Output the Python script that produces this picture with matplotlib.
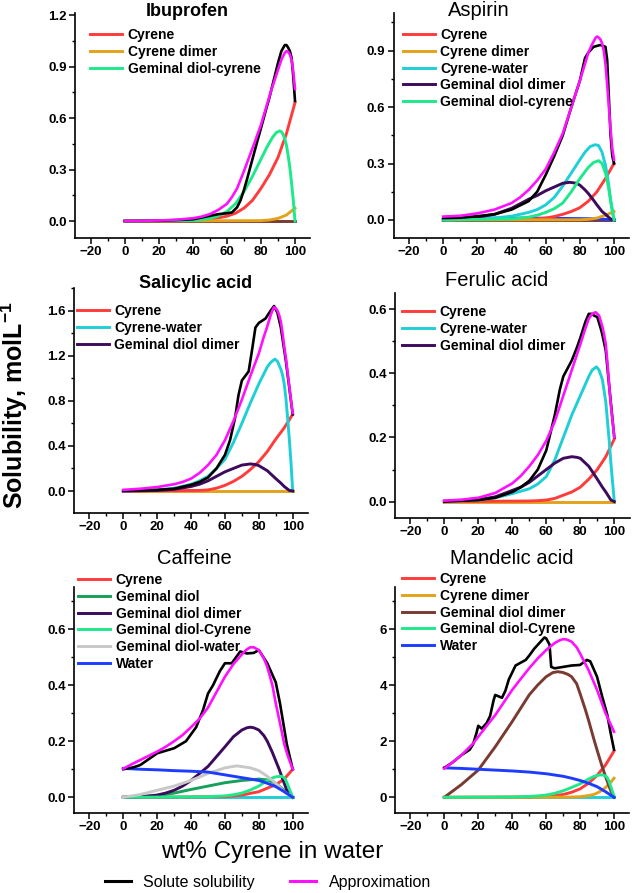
import numpy as np
import matplotlib
matplotlib.use("Agg")
import matplotlib.pyplot as plt
from matplotlib.ticker import MultipleLocator
from matplotlib.lines import Line2D

plt.rcParams['font.family'] = ['Liberation Sans', 'DejaVu Sans']
plt.rcParams['mathtext.fontset'] = 'custom'
plt.rcParams['mathtext.rm'] = 'Liberation Sans'
plt.rcParams['mathtext.bf'] = 'Liberation Sans:bold'

# =========================
# COLOURS
# =========================
C_RED = '#ff3b3b'
C_ORANGE = '#e3a21a'
C_CYAN = '#1fcfd6'
C_PURPLE = '#3d0a5c'
C_SPRING = '#1de98b'
C_GREEN = '#17a05a'
C_GRAY = '#c8c8c8'
C_BLUE = '#1e3cff'
C_BROWN = '#7a3a32'
C_MAGENTA = '#ff10ff'

# =========================
# DATA - Ibuprofen
# =========================
ibu_sol_x = [0, 20, 40, 50, 55, 60, 63, 66, 68, 70, 72, 75, 78, 80, 83, 85, 88, 90, 92, 94, 95, 96, 97, 98, 99, 100]
ibu_sol_y = [0, 0.001, 0.01, 0.03, 0.04, 0.045, 0.05, 0.08, 0.12, 0.18, 0.25, 0.36, 0.47, 0.54, 0.65, 0.72, 0.84, 0.92, 0.99, 1.025, 1.025, 1.01, 0.99, 0.95, 0.84, 0.70]
ibu_app_x = [0, 10, 20, 30, 40, 45, 50, 55, 60, 63, 66, 70, 73, 76, 80, 83, 86, 88, 90, 92, 94, 95, 96, 97, 98, 99, 100]
ibu_app_y = [0, 0.001, 0.003, 0.007, 0.016, 0.025, 0.04, 0.065, 0.1, 0.14, 0.19, 0.29, 0.37, 0.45, 0.56, 0.66, 0.76, 0.82, 0.88, 0.94, 0.98, 0.99, 0.985, 0.97, 0.94, 0.87, 0.77]
ibu_cyr_x = [0, 30, 40, 50, 55, 60, 65, 70, 75, 80, 85, 90, 95, 100]
ibu_cyr_y = [0, 0.002, 0.005, 0.012, 0.018, 0.028, 0.045, 0.075, 0.12, 0.19, 0.27, 0.37, 0.51, 0.69]
ibu_dim_x = [0, 80, 85, 90, 95, 100]
ibu_dim_y = [0, 0.002, 0.006, 0.015, 0.035, 0.075]
ibu_gdc_x = [0, 40, 45, 50, 55, 60, 65, 70, 75, 80, 84, 87, 89, 91, 92, 93, 94, 95, 96, 97, 98, 99, 100]
ibu_gdc_y = [0, 0.003, 0.008, 0.015, 0.03, 0.055, 0.1, 0.17, 0.26, 0.36, 0.44, 0.49, 0.515, 0.525, 0.52, 0.505, 0.48, 0.44, 0.38, 0.31, 0.22, 0.12, 0]
ibu_oth_x = [0, 100]
ibu_oth_y = [0, 0]

# =========================
# DATA - Aspirin
# =========================
asp_sol_x = [0, 10, 20, 30, 40, 50, 55, 60, 65, 70, 75, 80, 83, 85, 88, 92, 95, 96, 97, 98, 99, 100]
asp_sol_y = [0.01, 0.012, 0.02, 0.03, 0.055, 0.1, 0.15, 0.24, 0.34, 0.45, 0.6, 0.74, 0.86, 0.89, 0.92, 0.93, 0.92, 0.85, 0.65, 0.45, 0.34, 0.3]
asp_app_x = [0, 10, 20, 30, 40, 45, 50, 55, 60, 65, 70, 75, 80, 83, 85, 87, 89, 90, 91, 92, 93, 94, 95, 96, 97, 98, 99, 100]
asp_app_y = [0.018, 0.022, 0.035, 0.055, 0.09, 0.12, 0.16, 0.21, 0.27, 0.36, 0.46, 0.6, 0.74, 0.83, 0.89, 0.93, 0.965, 0.975, 0.97, 0.96, 0.94, 0.9, 0.83, 0.72, 0.6, 0.48, 0.38, 0.32]
asp_cyr_x = [0, 50, 55, 60, 65, 70, 75, 80, 85, 90, 95, 100]
asp_cyr_y = [0, 0.003, 0.006, 0.01, 0.018, 0.03, 0.045, 0.065, 0.1, 0.15, 0.22, 0.30]
asp_dim_x = [0, 80, 85, 90, 95, 100]
asp_dim_y = [0, 0.001, 0.003, 0.01, 0.025, 0.045]
asp_cw_x = [0, 20, 30, 40, 50, 55, 60, 65, 70, 75, 80, 83, 86, 89, 91, 93, 95, 96, 97, 98, 99, 100]
asp_cw_y = [0, 0.005, 0.01, 0.02, 0.04, 0.055, 0.08, 0.12, 0.18, 0.25, 0.32, 0.36, 0.39, 0.40, 0.395, 0.36, 0.29, 0.24, 0.18, 0.11, 0.05, 0]
asp_gdd_x = [0, 10, 20, 30, 40, 50, 55, 60, 65, 70, 74, 78, 80, 83, 85, 88, 90, 93, 95, 98, 100]
asp_gdd_y = [0, 0.007, 0.015, 0.03, 0.062, 0.11, 0.13, 0.155, 0.175, 0.195, 0.2, 0.195, 0.185, 0.16, 0.14, 0.105, 0.08, 0.045, 0.03, 0.005, 0]
asp_gdc_x = [0, 40, 50, 55, 60, 65, 70, 75, 80, 85, 88, 91, 93, 95, 96, 97, 98, 99, 100]
asp_gdc_y = [0, 0.005, 0.015, 0.025, 0.04, 0.06, 0.09, 0.15, 0.22, 0.28, 0.305, 0.315, 0.3, 0.25, 0.21, 0.16, 0.1, 0.05, 0]
asp_wat_x = [0, 50, 90, 100]
asp_wat_y = [0.01, 0.01, 0.006, 0]

# =========================
# DATA - Salicylic acid
# =========================
sal_sol_x = [0, 20, 30, 40, 45, 50, 55, 60, 63, 66, 68, 70, 72, 74, 76, 78, 80, 84, 87, 89, 91, 93, 96, 100]
sal_sol_y = [0.005, 0.01, 0.02, 0.055, 0.08, 0.12, 0.2, 0.32, 0.45, 0.65, 0.85, 0.98, 1.02, 1.06, 1.25, 1.45, 1.49, 1.53, 1.6, 1.64, 1.58, 1.45, 1.15, 0.68]
sal_app_x = [0, 10, 20, 30, 35, 40, 45, 50, 55, 60, 65, 70, 75, 80, 83, 85, 87, 88, 89, 90, 91, 92, 93, 94, 95, 96, 97, 98, 99, 100]
sal_app_y = [0.01, 0.02, 0.035, 0.06, 0.08, 0.11, 0.16, 0.23, 0.32, 0.45, 0.62, 0.81, 1.02, 1.22, 1.37, 1.46, 1.56, 1.6, 1.63, 1.62, 1.6, 1.56, 1.5, 1.4, 1.28, 1.18, 1.05, 0.93, 0.8, 0.69]
sal_cyr_x = [0, 45, 50, 55, 60, 65, 70, 75, 80, 85, 90, 95, 100]
sal_cyr_y = [0, 0.005, 0.01, 0.025, 0.05, 0.085, 0.13, 0.19, 0.26, 0.35, 0.46, 0.56, 0.68]
sal_cw_x = [0, 20, 30, 40, 45, 50, 55, 60, 65, 70, 75, 80, 83, 85, 87, 89.5, 91, 93, 94, 95, 96, 97, 98, 99, 100]
sal_cw_y = [0, 0.01, 0.025, 0.06, 0.09, 0.13, 0.2, 0.28, 0.43, 0.6, 0.78, 0.95, 1.04, 1.1, 1.14, 1.17, 1.15, 1.08, 1.03, 0.95, 0.82, 0.65, 0.46, 0.25, 0]
sal_gdd_x = [0, 20, 30, 40, 45, 50, 55, 60, 65, 70, 75, 78, 80, 85, 90, 93, 95, 98, 100]
sal_gdd_y = [0, 0.005, 0.015, 0.04, 0.06, 0.09, 0.13, 0.17, 0.2, 0.23, 0.24, 0.235, 0.225, 0.18, 0.11, 0.07, 0.04, 0.005, 0]
sal_oth_x = [0, 100]
sal_oth_y = [0, 0]

# =========================
# DATA - Ferulic acid
# =========================
fer_sol_x = [0, 20, 30, 40, 45, 50, 55, 60, 65, 68, 70, 73, 75, 78, 80, 83, 85, 87, 88, 90, 92, 93, 95, 97, 100]
fer_sol_y = [0.002, 0.005, 0.012, 0.03, 0.045, 0.065, 0.1, 0.16, 0.27, 0.35, 0.39, 0.42, 0.44, 0.48, 0.51, 0.56, 0.585, 0.585, 0.58, 0.575, 0.54, 0.52, 0.47, 0.36, 0.2]
fer_app_x = [0, 10, 20, 30, 40, 45, 50, 55, 60, 65, 70, 75, 80, 83, 85, 87, 89, 91, 93, 94, 95, 96, 97, 98, 99, 100]
fer_app_y = [0.003, 0.006, 0.012, 0.027, 0.057, 0.08, 0.11, 0.145, 0.19, 0.25, 0.33, 0.41, 0.49, 0.54, 0.57, 0.585, 0.59, 0.58, 0.545, 0.52, 0.49, 0.43, 0.36, 0.3, 0.25, 0.2]
fer_cyr_x = [0, 50, 55, 60, 65, 70, 75, 80, 85, 90, 95, 100]
fer_cyr_y = [0, 0.002, 0.003, 0.005, 0.01, 0.02, 0.03, 0.045, 0.07, 0.1, 0.14, 0.195]
fer_cw_x = [0, 20, 30, 40, 50, 55, 60, 65, 70, 75, 80, 85, 87, 89.5, 91, 93, 95, 96, 97, 98, 99, 100]
fer_cw_y = [0, 0.005, 0.012, 0.025, 0.04, 0.055, 0.078, 0.13, 0.2, 0.27, 0.33, 0.39, 0.41, 0.42, 0.41, 0.38, 0.31, 0.25, 0.19, 0.12, 0.06, 0]
fer_gdd_x = [0, 20, 30, 40, 45, 50, 55, 60, 65, 70, 75, 78, 80, 85, 90, 93, 95, 98, 100]
fer_gdd_y = [0, 0.006, 0.015, 0.035, 0.045, 0.06, 0.08, 0.1, 0.12, 0.135, 0.14, 0.138, 0.135, 0.11, 0.07, 0.045, 0.03, 0.005, 0]
fer_oth_x = [0, 100]
fer_oth_y = [0, 0]

# =========================
# DATA - Caffeine
# =========================
caf_sol_x = [0, 6, 10, 20, 30, 37, 43, 47, 50, 53, 57, 60, 64, 69, 73, 77, 80, 85, 90, 92.5, 96.5, 100]
caf_sol_y = [0.1, 0.107, 0.115, 0.157, 0.175, 0.2, 0.25, 0.31, 0.37, 0.4, 0.45, 0.478, 0.478, 0.52, 0.513, 0.515, 0.525, 0.478, 0.41, 0.335, 0.19, 0.1]
caf_app_x = [0, 5, 10, 15, 20, 25, 30, 35, 40, 45, 50, 55, 60, 65, 70, 73, 75, 77, 80, 83, 85, 88, 90, 93, 95, 97, 100]
caf_app_y = [0.102, 0.118, 0.133, 0.148, 0.163, 0.18, 0.2, 0.222, 0.25, 0.28, 0.32, 0.375, 0.43, 0.475, 0.51, 0.528, 0.535, 0.535, 0.525, 0.495, 0.465, 0.4, 0.335, 0.25, 0.19, 0.15, 0.1]
caf_cyr_x = [0, 60, 70, 80, 90, 95, 100]
caf_cyr_y = [0, 0.002, 0.008, 0.02, 0.045, 0.065, 0.1]
caf_gd_x = [0, 20, 30, 40, 50, 60, 70, 80, 85, 90, 95, 100]
caf_gd_y = [0, 0.005, 0.015, 0.028, 0.04, 0.052, 0.06, 0.065, 0.062, 0.05, 0.025, 0]
caf_gdd_x = [0, 10, 20, 25, 30, 35, 40, 45, 50, 55, 60, 65, 70, 73, 75, 77, 80, 83, 85, 88, 90, 92, 95, 96.5, 100]
caf_gdd_y = [0, 0.002, 0.008, 0.015, 0.025, 0.04, 0.06, 0.085, 0.11, 0.145, 0.18, 0.216, 0.24, 0.248, 0.25, 0.248, 0.24, 0.22, 0.2, 0.16, 0.13, 0.1, 0.05, 0.026, 0]
caf_gdc_x = [0, 50, 60, 65, 70, 75, 80, 85, 88, 90, 93.5, 95, 96, 97, 98, 99, 100]
caf_gdc_y = [0, 0.002, 0.005, 0.009, 0.015, 0.026, 0.04, 0.06, 0.069, 0.073, 0.075, 0.07, 0.06, 0.046, 0.03, 0.015, 0]
caf_gdw_x = [0, 10, 20, 30, 40, 50, 60, 67, 75, 80, 85, 90, 95, 100]
caf_gdw_y = [0, 0.01, 0.025, 0.04, 0.06, 0.085, 0.105, 0.112, 0.105, 0.095, 0.075, 0.05, 0.02, 0]
caf_wat_x = [0, 10, 20, 30, 40, 50, 60, 65, 70, 80, 85, 90, 95, 100]
caf_wat_y = [0.103, 0.1, 0.098, 0.095, 0.093, 0.09, 0.08, 0.075, 0.07, 0.06, 0.05, 0.038, 0.02, 0]
caf_oth_x = [0, 100]
caf_oth_y = [0, 0]

# =========================
# DATA - Mandelic acid
# =========================
man_sol_x = [0, 5, 10, 15, 17, 19, 20, 22, 25, 27, 29, 30, 32, 34, 36, 38, 40, 42, 45, 48, 50, 53, 56, 59, 60, 62, 63, 65, 70, 75, 80, 84, 86, 90, 93, 96, 98, 100]
man_sol_y = [1.05, 1.25, 1.5, 1.7, 1.9, 2.3, 2.55, 2.45, 2.65, 2.9, 3.45, 3.65, 3.6, 3.55, 3.8, 4.2, 4.45, 4.7, 4.8, 4.9, 5.05, 5.3, 5.5, 5.7, 5.67, 5.45, 4.65, 4.6, 4.65, 4.7, 4.72, 4.9, 4.85, 4.3, 3.6, 2.95, 2.3, 1.7]
man_app_x = [0, 5, 10, 15, 17, 20, 25, 30, 35, 40, 45, 50, 55, 60, 65, 68, 70, 72, 75, 78, 80, 85, 90, 95, 100]
man_app_y = [1.03, 1.25, 1.5, 1.8, 1.92, 2.16, 2.55, 2.93, 3.38, 3.83, 4.22, 4.6, 4.95, 5.25, 5.5, 5.6, 5.64, 5.63, 5.55, 5.35, 5.13, 4.54, 3.83, 3.0, 2.34]
man_cyr_x = [0, 50, 60, 65, 70, 75, 80, 85, 90, 95, 100]
man_cyr_y = [0, 0.01, 0.03, 0.06, 0.1, 0.18, 0.3, 0.5, 0.78, 1.15, 1.65]
man_dim_x = [0, 70, 75, 80, 85, 88, 90, 93, 95, 98, 100]
man_dim_y = [0, 0.005, 0.01, 0.02, 0.06, 0.1, 0.15, 0.25, 0.35, 0.53, 0.68]
man_gdd_x = [0, 10, 20, 30, 40, 50, 55, 60, 64, 67, 70, 73, 75, 78, 80, 83, 85, 88, 90, 93, 95, 98, 100]
man_gdd_y = [0, 0.45, 0.97, 1.8, 2.7, 3.65, 4.0, 4.3, 4.45, 4.48, 4.45, 4.38, 4.3, 4.05, 3.7, 3.15, 2.75, 2.1, 1.69, 1.1, 0.74, 0.25, 0]
man_gdc_x = [0, 40, 50, 55, 60, 65, 70, 75, 80, 85, 88, 90, 92, 93, 95, 96, 97, 98, 99, 100]
man_gdc_y = [0, 0.01, 0.03, 0.05, 0.08, 0.14, 0.23, 0.35, 0.48, 0.65, 0.74, 0.78, 0.8, 0.8, 0.76, 0.7, 0.58, 0.4, 0.22, 0.05]
man_wat_x = [0, 10, 20, 30, 40, 50, 60, 70, 75, 80, 85, 90, 95, 100]
man_wat_y = [1.05, 1.03, 1.0, 0.97, 0.94, 0.9, 0.84, 0.75, 0.68, 0.6, 0.5, 0.38, 0.2, 0]
man_oth_x = [0, 100]
man_oth_y = [0, 0]

# =========================
# FIGURE
# =========================
W, H = 633, 893
fig = plt.figure(figsize=(W / 100, H / 100), dpi=100)
XLIM = (-29, 109)


def make_ax(x0px, x100px, top, bottom, ylim, ymaj, ymin, fmt):
    s = (x100px - x0px) / 100.0
    left = x0px + XLIM[0] * s
    right = x0px + XLIM[1] * s
    ax = fig.add_axes([left / W, 1 - bottom / H, (right - left) / W, (bottom - top) / H])
    ax.set_xlim(*XLIM)
    ax.set_ylim(*ylim)
    for sp in ['top', 'right']:
        ax.spines[sp].set_visible(False)
    for sp in ['left', 'bottom']:
        ax.spines[sp].set_linewidth(1.2)
    ax.set_xticks([-20, 0, 20, 40, 60, 80, 100])
    ax.xaxis.set_minor_locator(MultipleLocator(10))
    ax.yaxis.set_major_locator(MultipleLocator(ymaj))
    ax.yaxis.set_minor_locator(MultipleLocator(ymin))
    ax.yaxis.set_major_formatter(plt.FormatStrFormatter(fmt))
    ax.tick_params(which='major', length=4, width=1.1, labelsize=9.5, pad=2)
    ax.tick_params(which='minor', length=2.2, width=1.0)
    for lab in ax.get_xticklabels() + ax.get_yticklabels():
        lab.set_fontweight('bold')
    return ax


def draw(ax, comps, sol, app, leg_x, leg_y):
    for x, y, c, lab in comps:
        ax.plot(x, y, color=c, lw=2.1, label=lab, solid_joinstyle='round')
    ax.plot(sol[0], sol[1], color='black', lw=1.9, label='_nolegend_', solid_joinstyle='round')
    ax.plot(app[0], app[1], color=C_MAGENTA, lw=1.9, label='_nolegend_', solid_joinstyle='round')
    ax.legend(loc='upper left', bbox_to_anchor=(leg_x / W, 1 - (leg_y - 7) / H),
              bbox_transform=fig.transFigure, frameon=False, borderpad=0,
              borderaxespad=0, handlelength=2.3, handletextpad=0.4,
              labelspacing=0.2, prop={'weight': 'bold', 'size': 10})


def title(xc, yc, txt, bold):
    fig.text(xc / W, 1 - yc / H, txt, ha='center', va='center',
             fontsize=13 if bold else 14.5,
             fontweight='bold' if bold else 'normal')


# Ibuprofen
ax1 = make_ax(124.7, 295, 13, 238, (-0.099, 1.212), 0.3, 0.15, '%.1f')
draw(ax1, [
    (ibu_oth_x, ibu_oth_y, C_BROWN, '_nolegend_'),
    (ibu_cyr_x, ibu_cyr_y, C_RED, 'Cyrene'),
    (ibu_dim_x, ibu_dim_y, C_ORANGE, 'Cyrene dimer'),
    (ibu_gdc_x, ibu_gdc_y, C_SPRING, 'Geminal diol-cyrene'),
], (ibu_sol_x, ibu_sol_y), (ibu_app_x, ibu_app_y), 90, 35)
title(187, 11, 'Ibuprofen', True)

# Aspirin
ax2 = make_ax(443.3, 614, 13, 238, (-0.096, 1.10), 0.3, 0.15, '%.1f')
draw(ax2, [
    (ibu_oth_x, ibu_oth_y, C_BROWN, '_nolegend_'),
    (asp_wat_x, asp_wat_y, C_BLUE, '_nolegend_'),
    (asp_cyr_x, asp_cyr_y, C_RED, 'Cyrene'),
    (asp_dim_x, asp_dim_y, C_ORANGE, 'Cyrene dimer'),
    (asp_cw_x, asp_cw_y, C_CYAN, 'Cyrene-water'),
    (asp_gdd_x, asp_gdd_y, C_PURPLE, 'Geminal diol dimer'),
    (asp_gdc_x, asp_gdc_y, C_SPRING, 'Geminal diol-cyrene'),
], (asp_sol_x, asp_sol_y), (asp_app_x, asp_app_y), 403, 35)
title(479, 11, 'Aspirin', False)

# Salicylic acid
ax3 = make_ax(123.3, 292.7, 288, 513, (-0.195, 1.80), 0.4, 0.2, '%.1f')
draw(ax3, [
    (sal_oth_x, sal_oth_y, C_ORANGE, '_nolegend_'),
    (sal_cyr_x, sal_cyr_y, C_RED, 'Cyrene'),
    (sal_cw_x, sal_cw_y, C_CYAN, 'Cyrene-water'),
    (sal_gdd_x, sal_gdd_y, C_PURPLE, 'Geminal diol dimer'),
], (sal_sol_x, sal_sol_y), (sal_app_x, sal_app_y), 77, 311)
title(196, 283, 'Salicylic acid', True)

# Ferulic acid
ax4 = make_ax(444.3, 614.3, 293, 518, (-0.051, 0.65), 0.2, 0.1, '%.1f')
draw(ax4, [
    (fer_oth_x, fer_oth_y, C_ORANGE, '_nolegend_'),
    (fer_cyr_x, fer_cyr_y, C_RED, 'Cyrene'),
    (fer_cw_x, fer_cw_y, C_CYAN, 'Cyrene-water'),
    (fer_gdd_x, fer_gdd_y, C_PURPLE, 'Geminal diol dimer'),
], (fer_sol_x, fer_sol_y), (fer_app_x, fer_app_y), 402, 312)
title(497, 281, 'Ferulic acid', False)

# Caffeine
ax5 = make_ax(123.3, 292.7, 587, 813, (-0.056, 0.75), 0.2, 0.1, '%.1f')
draw(ax5, [
    (caf_oth_x, caf_oth_y, C_CYAN, '_nolegend_'),
    (caf_cyr_x, caf_cyr_y, C_RED, 'Cyrene'),
    (caf_gd_x, caf_gd_y, C_GREEN, 'Geminal diol'),
    (caf_gdd_x, caf_gdd_y, C_PURPLE, 'Geminal diol dimer'),
    (caf_gdc_x, caf_gdc_y, C_SPRING, 'Geminal diol-Cyrene'),
    (caf_gdw_x, caf_gdw_y, C_GRAY, 'Geminal diol-water'),
    (caf_wat_x, caf_wat_y, C_BLUE, 'Water'),
], (caf_sol_x, caf_sol_y), (caf_app_x, caf_app_y), 78, 580)
title(194, 558, 'Caffeine', False)

# Mandelic acid
ax6 = make_ax(444.3, 614, 587, 813, (-0.56, 7.5), 2, 1, '%d')
draw(ax6, [
    (man_oth_x, man_oth_y, C_CYAN, '_nolegend_'),
    (man_cyr_x, man_cyr_y, C_RED, 'Cyrene'),
    (man_dim_x, man_dim_y, C_ORANGE, 'Cyrene dimer'),
    (man_gdd_x, man_gdd_y, C_BROWN, 'Geminal diol dimer'),
    (man_gdc_x, man_gdc_y, C_SPRING, 'Geminal diol-Cyrene'),
    (man_wat_x, man_wat_y, C_BLUE, 'Water'),
], (man_sol_x, man_sol_y), (man_app_x, man_app_y), 402, 579)
title(512, 558, 'Mandelic acid', False)

# =========================
# SHARED LABELS
# =========================
fig.text(14 / W, 1 - 405 / H, r'Solubility, molL$^{\mathbf{-1}}$', rotation=90,
         ha='center', va='center', fontsize=18, fontweight='bold')
fig.text(272 / W, 1 - 852 / H, 'wt% Cyrene in water', ha='center', va='center',
         fontsize=17.5)

handles = [Line2D([], [], color='black', lw=2.2), Line2D([], [], color=C_MAGENTA, lw=2.2)]
fig.legend(handles, ['Solute solubility', 'Approximation'], loc='center',
           bbox_to_anchor=(268 / W, 1 - 882 / H), ncol=2, frameon=False,
           handlelength=1.6, handletextpad=0.8, columnspacing=2.2,
           fontsize=11.5, borderpad=0)

fig.savefig('out.png', dpi=100)
